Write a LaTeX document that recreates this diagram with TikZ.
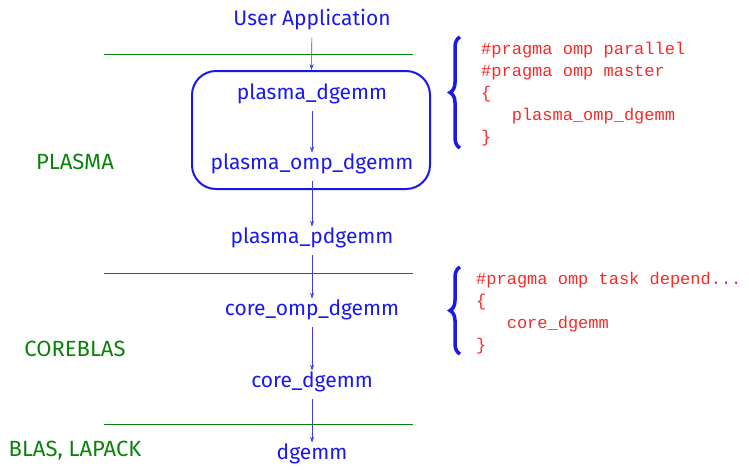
\documentclass[tikz,border=0pt]{standalone}
\usepackage{fontspec}
\setmainfont{Fira Sans}
\setmonofont{Liberation Mono}
\usetikzlibrary{arrows.meta,positioning,decorations.pathreplacing}
\definecolor{fnblue}{RGB}{25,25,235}
\definecolor{lvgreen}{RGB}{10,130,10}
\definecolor{cdred}{RGB}{250,40,40}

\begin{document}
\begin{tikzpicture}[x=1pt,y=-1pt,>={Stealth[length=6pt,width=4pt]},
  f/.style={text=fnblue,font=\fontsize{21}{25}\selectfont,inner sep=1pt},
  l/.style={text=lvgreen,font=\fontsize{22}{26}\selectfont},
  c/.style={text=cdred,font=\ttfamily\fontsize{17}{22}\selectfont,align=left,anchor=north west,inner sep=0pt},
  e/.style={->,draw=fnblue!85!white,semithick,shorten <=6pt},
  sep/.style={draw=lvgreen,thin},
  br/.style={draw=fnblue,line width=3.5pt,decorate,decoration={brace,amplitude=10pt}}]
\useasboundingbox (0,0) rectangle (749,469);
% call chain
\node[f] (ua) at (312,20) {User Application};
\node[draw=fnblue,line width=2pt,rounded corners=24pt,minimum width=238pt,minimum height=118pt] (box) at (311,130) {};
\node[f] (pd) at (312,94) {plasma\_dgemm};
\node[f] (pod) at (312,164) {plasma\_omp\_dgemm};
\node[f] (ppd) at (312,238) {plasma\_pdgemm};
\node[f] (cod) at (312,310) {core\_omp\_dgemm};
\node[f] (cd) at (312,382) {core\_dgemm};
\node[f] (dg) at (312,454) {dgemm};
\draw[e](ua)--(box);\draw[e](pd)--(pod);\draw[e](pod)--(ppd);
\draw[e](ppd)--(cod);\draw[e](cod)--(cd);\draw[e](cd)--(dg);
% layers
\draw[sep] (104,54) -- (413,54);
\draw[sep] (104,273) -- (413,273);
\draw[sep] (104,424) -- (413,424);
\node[l] (plasma) at (75,162) {PLASMA};
\node[l] (coreblas) at (75,349) {COREBLAS};
\node[l] (blas) at (75,451) {BLAS, LAPACK};
% pragmas
\draw[br] (460,148) -- (460,37);
\node[c] (omp1) at (481,42) {\#pragma omp parallel\\\#pragma omp master\\\{\\\phantom{xxx}plasma\_omp\_dgemm\\\}};
\draw[br] (460,354) -- (460,267);
\node[c] (omp2) at (476,272) {\#pragma omp task depend...\\\{\\\phantom{xxx}core\_dgemm\\\}};
\end{tikzpicture}
\end{document}
